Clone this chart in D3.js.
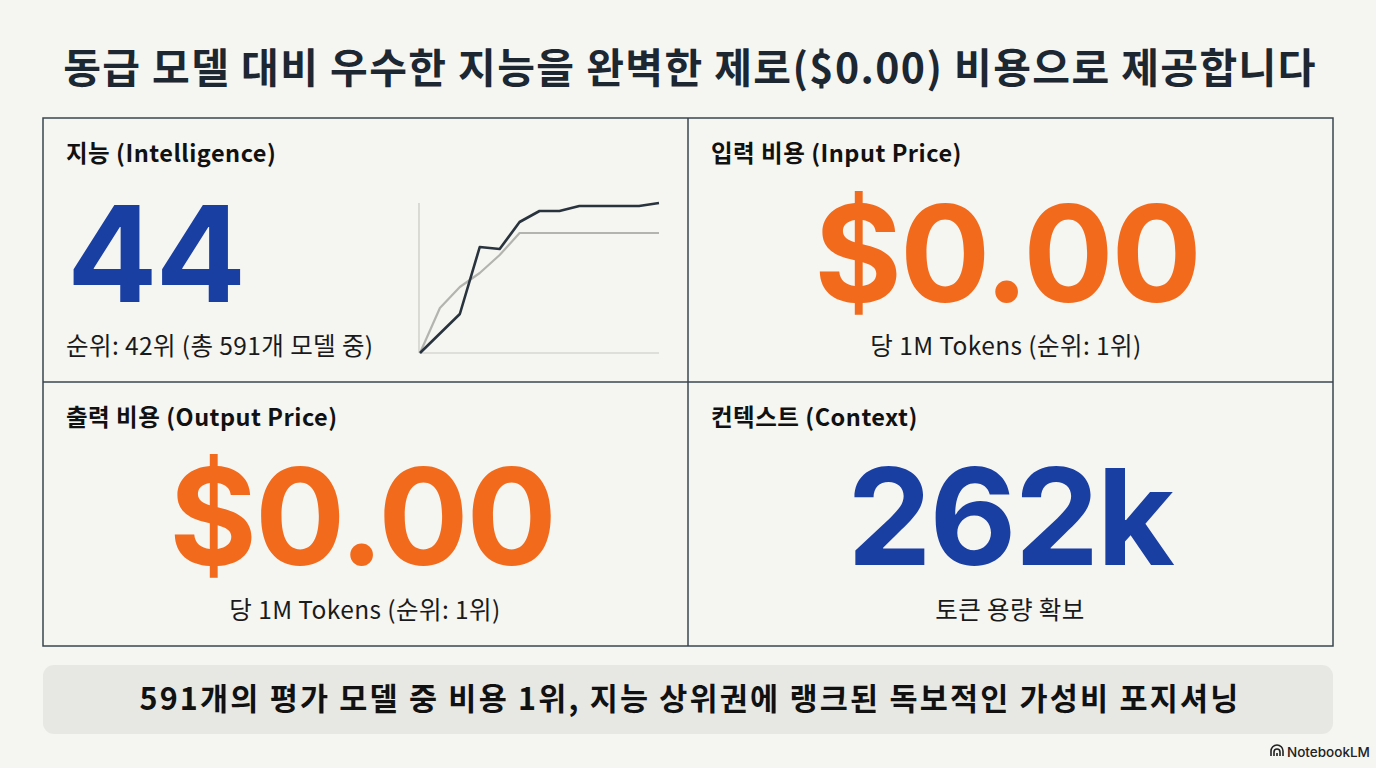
<!DOCTYPE html>
<html>
<head>
<meta charset="utf-8">
<script src="https://cdn.jsdelivr.net/npm/d3@7"></script>
<style>
body{margin:0;background:#f5f5f1;}
</style>
</head>
<body>
<script>
/* data */
var titleText = "동급 모델 대비 우수한 지능을 완벽한 제로($0.00) 비용으로 제공합니다";
var panelTitles = ["지능 (Intelligence)", "입력 비용 (Input Price)", "출력 비용 (Output Price)", "컨텍스트 (Context)"];
var panelValues = ["44", "$0.00", "$0.00", "262k"];
var panelNotes = ["순위: 42위 (총 591개 모델 중)", "당 1M Tokens (순위: 1위)", "당 1M Tokens (순위: 1위)", "토큰 용량 확보"];
var bannerText = "591개의 평가 모델 중 비용 1위, 지능 상위권에 랭크된 독보적인 가성비 포지셔닝";

/* sparkline: step index and value */
var modelX = [0, 2, 3, 4, 5, 6, 7, 8, 11, 12];
var modelY = [0, 39, 106, 104, 131, 142, 142, 147, 147, 150];
var peerX = [0, 1, 2, 3, 4, 5, 12];
var peerY = [0, 45, 66, 80, 98, 120, 120];

var W = 1376, H = 768;
var blue = "#1a3fa3", orange = "#f26b1d", ink = "#1c2731";
var kr = "'Noto Sans CJK KR', 'Noto Sans', sans-serif";
var big = "Inter, 'Liberation Sans', sans-serif";

var svg = d3.select("body").append("svg")
	.attr("width", W).attr("height", H);

svg.append("rect").attr("width", W).attr("height", H).attr("fill", "#f5f5f1");

/* title */
svg.append("text")
	.attr("x", 690).attr("y", 83)
	.attr("text-anchor", "middle")
	.style("font-family", kr).style("font-weight", 700).style("font-size", "41px")
	.style("letter-spacing", "1.4px")
	.attr("fill", ink)
	.text(titleText);

/* grid of four panels */
var gx = 43, gy = 118, gw = 1290, gh = 528;
var cols = d3.scaleBand().domain([0, 1]).range([gx, gx + gw]);
var rows = d3.scaleBand().domain([0, 1]).range([gy, gy + gh]);

var grid = svg.append("g");
grid.append("rect")
	.attr("x", gx).attr("y", gy).attr("width", gw).attr("height", gh)
	.attr("fill", "none").attr("stroke", "#3a4450").attr("stroke-width", 1.5);
grid.append("line")
	.attr("x1", cols(1)).attr("x2", cols(1)).attr("y1", gy).attr("y2", gy + gh)
	.attr("stroke", "#3a4450").attr("stroke-width", 1.5);
grid.append("line")
	.attr("x1", gx).attr("x2", gx + gw).attr("y1", rows(1)).attr("y2", rows(1))
	.attr("stroke", "#3a4450").attr("stroke-width", 1.5);

var panels = panelTitles.map(function(t, i){
	return {title: t, value: panelValues[i], note: panelNotes[i], c: i % 2, r: Math.floor(i / 2)};
});

var cell = svg.selectAll("g.panel").data(panels).enter().append("g")
	.attr("class", "panel")
	.attr("transform", function(d){ return "translate(" + cols(d.c) + "," + rows(d.r) + ")"; });

cell.append("text")
	.attr("x", 23).attr("y", 44)
	.style("font-family", kr).style("font-weight", 700).style("font-size", "23.5px")
	.style("letter-spacing", "0.5px")
	.attr("fill", "#111")
	.text(function(d){ return d.title; });

/* big numbers: first panel left aligned, others centred */
cell.append("text")
	.attr("x", function(d, i){ return i == 0 ? 24 : (i == 3 ? 322 : 319); })
	.attr("y", function(d, i){ return i < 2 ? 184 : 183; })
	.attr("text-anchor", function(d, i){ return i == 0 ? "start" : "middle"; })
	.style("font-family", big).style("font-weight", 700).style("font-size", "134px")
	.style("letter-spacing", "-2px")
	.attr("fill", function(d, i){ return (i == 0 || i == 3) ? blue : orange; })
	.text(function(d){ return d.value; });

cell.append("text")
	.attr("x", function(d, i){ return i == 0 ? 23 : (i == 1 ? 318 : 322); })
	.attr("y", 237)
	.attr("text-anchor", function(d, i){ return i == 0 ? "start" : "middle"; })
	.style("font-family", kr).style("font-weight", 400).style("font-size", "24.5px")
	.style("letter-spacing", "0.4px")
	.attr("fill", "#1a1a1a")
	.text(function(d){ return d.note; });

/* sparkline in the intelligence panel */
var sx = d3.scaleLinear().domain([0, 12]).range([420, 659]);
var sy = d3.scaleLinear().domain([0, 150]).range([353, 203]);

var spark = svg.append("g");
spark.append("line")
	.attr("x1", sx(0) - 1).attr("x2", sx(0) - 1).attr("y1", sy(150)).attr("y2", sy(0))
	.attr("stroke", "#c8c8c4").attr("stroke-width", 1.2);
spark.append("line")
	.attr("x1", sx(0) - 1).attr("x2", sx(12)).attr("y1", sy(0)).attr("y2", sy(0))
	.attr("stroke", "#c8c8c4").attr("stroke-width", 1.2);

var line = d3.line().x(function(d){ return sx(d[0]); }).y(function(d){ return sy(d[1]); });

spark.append("path")
	.datum(d3.zip(peerX, peerY))
	.attr("d", line)
	.attr("fill", "none").attr("stroke", "#b3b3b0").attr("stroke-width", 2.2)
	.attr("stroke-linejoin", "round");
spark.append("path")
	.datum(d3.zip(modelX, modelY))
	.attr("d", line)
	.attr("fill", "none").attr("stroke", "#28333d").attr("stroke-width", 2.6)
	.attr("stroke-linejoin", "round");

/* bottom banner */
svg.append("rect")
	.attr("x", 43).attr("y", 665).attr("width", 1290).attr("height", 69)
	.attr("rx", 11).attr("ry", 11)
	.attr("fill", "#e7e7e4");
svg.append("text")
	.attr("x", 690).attr("y", 710)
	.attr("text-anchor", "middle")
	.style("font-family", kr).style("font-weight", 700).style("font-size", "30.5px")
	.style("letter-spacing", "2.2px")
	.attr("fill", "#111")
	.text(bannerText);

/* NotebookLM mark */
var mark = svg.append("g").attr("transform", "translate(1271,752)");
mark.append("path")
	.attr("d", "M0,4 L0,-1 A6,6 0 0 1 12,-1 L12,4 M3,4 L3,0 A3,3 0 0 1 9,0 L9,4 M6,4 L6,1")
	.attr("fill", "none").attr("stroke", "#222").attr("stroke-width", 1.6);
mark.append("text")
	.attr("x", 16).attr("y", 5)
	.style("font-family", "Inter, sans-serif").style("font-weight", 500).style("font-size", "13.5px")
	.attr("fill", "#222")
	.text("NotebookLM");
</script>
</body>
</html>
